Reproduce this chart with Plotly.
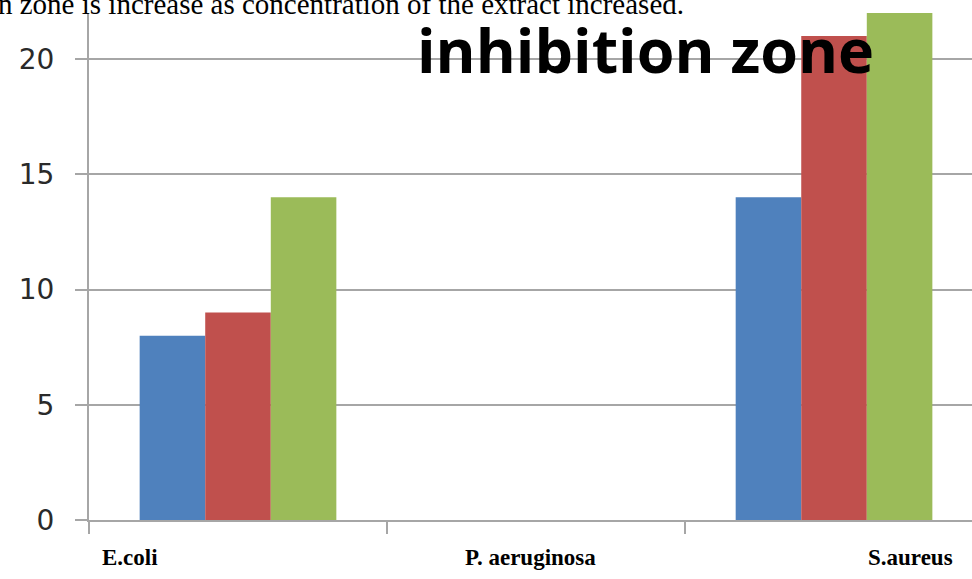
import plotly.graph_objects as go

categories = ["E.coli", "P. aeruginosa", "S.aureus"]
series_names = ["Concentration 1", "Concentration 2", "Concentration 3"]
values_1 = [8, None, 14]
values_2 = [9, None, 21]
values_3 = [14, None, 22]
colors = ["#4F81BD", "#C0504D", "#9BBB59"]
y_ticks = [0, 5, 10, 15, 20]
chart_title = "inhibition zone"
caption_text = "n zone is increase as concentration of the extract increased."

fig = go.Figure()
for name, vals, col in zip(series_names, [values_1, values_2, values_3], colors):
    fig.add_trace(go.Bar(x=categories, y=vals, name=name, marker=dict(color=col, line=dict(width=0))))

W, H = 972, 579
ml, mr, mt, mb = 89, 0, 13, 59
pw = W - ml - mr
ph = H - mt - mb

def px_to_paper_x(px):
    return (px - ml) / pw

def px_to_paper_y(py):
    return (H - mb - py) / ph

fig.update_layout(
    width=W, height=H,
    margin=dict(l=ml, r=mr, t=mt, b=mb),
    paper_bgcolor="white", plot_bgcolor="white",
    barmode="group", bargap=0.34, bargroupgap=0,
    showlegend=False,
    xaxis=dict(
        type="category", range=[-0.5, 2.463],
        showticklabels=False, tickson="boundaries",
        ticks="outside", ticklen=12, tickwidth=2, tickcolor="#a6a6a6",
        showline=True, linecolor="#a6a6a6", linewidth=2,
        showgrid=False, zeroline=False,
    ),
    yaxis=dict(
        range=[0, 22], tickvals=y_ticks,
        ticks="outside", ticklen=12, tickwidth=2, tickcolor="#a6a6a6",
        showline=True, linecolor="#a6a6a6", linewidth=2,
        showgrid=True, gridcolor="#a6a6a6", gridwidth=2,
        zeroline=False,
        tickfont=dict(family="DejaVu Sans", size=28, color="#2a2a2a"),
        ticklabelstandoff=15,
    ),
)

annotations = [
    dict(text="<b>" + chart_title + "</b>", xref="paper", yref="paper",
         x=px_to_paper_x(645), y=px_to_paper_y(49), xanchor="center", yanchor="middle",
         showarrow=False, font=dict(family="Open Sans", size=61, color="black")),
    dict(text=caption_text, xref="paper", yref="paper",
         x=px_to_paper_x(-4), y=1, xanchor="left", yanchor="bottom", yshift=-9,
         showarrow=False, font=dict(family="Liberation Serif", size=29, color="black")),
]
label_centers = [130, 530, 910]
for lab, cx in zip(categories, label_centers):
    annotations.append(dict(text="<b>" + lab + "</b>", xref="paper", yref="paper",
                            x=px_to_paper_x(cx), y=px_to_paper_y(557), xanchor="center", yanchor="middle",
                            showarrow=False, font=dict(family="Liberation Serif", size=23, color="black")))
fig.update_layout(annotations=annotations)

fig.write_html("out.html", config={"displayModeBar": False},
               post_script="document.body.style.margin='0';")
